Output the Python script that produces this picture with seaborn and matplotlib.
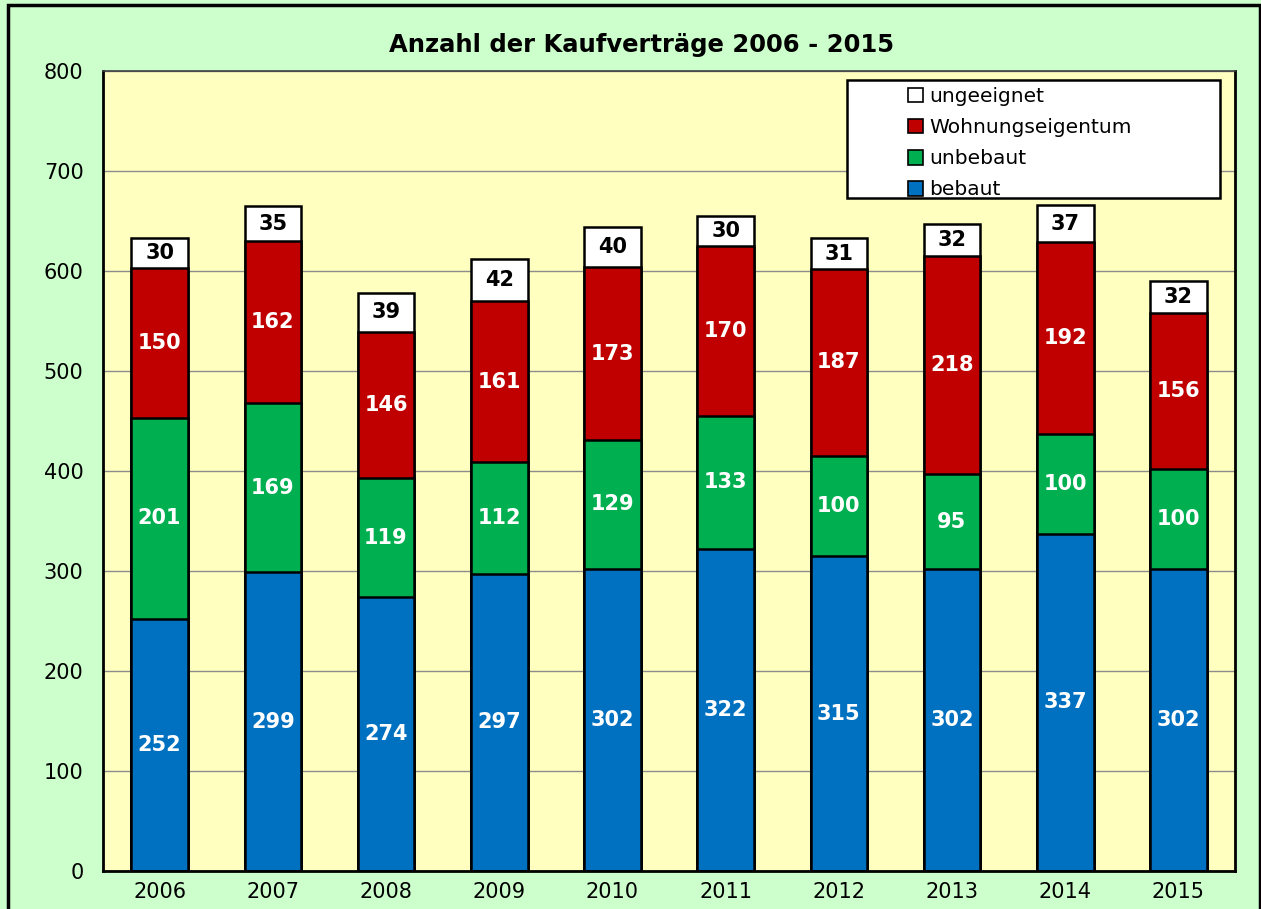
import numpy as np
import pandas as pd
import matplotlib
matplotlib.use('Agg')
import matplotlib.pyplot as plt
import seaborn as sns
from matplotlib.patches import Patch, Rectangle

years = ['2006', '2007', '2008', '2009', '2010', '2011', '2012', '2013', '2014', '2015']
bebaut = [252, 299, 274, 297, 302, 322, 315, 302, 337, 302]
unbebaut = [201, 169, 119, 112, 129, 133, 100, 95, 100, 100]
wohnungseigentum = [150, 162, 146, 161, 173, 170, 187, 218, 192, 156]
ungeeignet = [30, 35, 39, 42, 40, 30, 31, 32, 37, 32]

series = ['bebaut', 'unbebaut', 'Wohnungseigentum', 'ungeeignet']
colors = {'bebaut': '#0070C0', 'unbebaut': '#00B050',
          'Wohnungseigentum': '#C00000', 'ungeeignet': '#FFFFFF'}
text_colors = {'bebaut': 'white', 'unbebaut': 'white',
               'Wohnungseigentum': 'white', 'ungeeignet': 'black'}

df = pd.DataFrame({'Jahr': years, 'bebaut': bebaut, 'unbebaut': unbebaut,
                   'Wohnungseigentum': wohnungseigentum, 'ungeeignet': ungeeignet})
cum = df[series].cumsum(axis=1)

sns.set_style('white')
plt.rcParams['font.family'] = ['DejaVu Sans']
plt.rcParams['text.color'] = 'black'
plt.rcParams['xtick.color'] = 'black'
plt.rcParams['ytick.color'] = 'black'

fig = plt.figure(figsize=(12.61, 9.09), dpi=100, facecolor='#CCFFCC')
ax = fig.add_axes([103 / 1261, 38 / 909, 1132 / 1261, 800 / 909])
ax.set_facecolor('#FFFFC0')

# figure border
fig.patches.append(Rectangle((8 / 1261, -0.02), 1252 / 1261, 1.02 - 5 / 909,
                             transform=fig.transFigure, fill=False,
                             edgecolor='black', linewidth=2.5, zorder=10))

ax.yaxis.grid(True, color='#8C8C8C', linewidth=1)
ax.set_axisbelow(True)

# stacked bars drawn as cumulative totals, top series first
for s in reversed(series):
    sns.barplot(x=df['Jahr'], y=cum[s], color=colors[s], width=0.5,
                edgecolor='black', linewidth=1.8, saturation=1, ax=ax)

# segment labels
for i in range(len(years)):
    base = 0
    for s in series:
        v = df[s][i]
        ax.text(i, base + v / 2, str(v), ha='center', va='center',
                color=text_colors[s], fontsize=15, fontweight='bold')
        base += v

ax.set_xlim(-0.5, 9.5)
ax.set_ylim(0, 800)
ax.set_yticks(range(0, 801, 100))
ax.set_xlabel('')
ax.set_ylabel('')
ax.tick_params(axis='y', length=6, color='#808080', labelsize=15, pad=8)
ax.tick_params(axis='x', length=0, labelsize=15, pad=8)
for sp in ax.spines.values():
    sp.set_visible(True)
    sp.set_color('black')
    sp.set_linewidth(2)
ax.spines['top'].set_color('#404040')
ax.spines['top'].set_linewidth(1.2)

# legend frame drawn separately so it is as wide as in the original
ax.add_patch(Rectangle(((847 - 103) / 1132, (871 - 198) / 800), (1220 - 847) / 1132, 118 / 800,
                       transform=ax.transAxes, facecolor='white', edgecolor='black',
                       linewidth=1.8, zorder=4.5))
handles = [Patch(facecolor=colors[s], edgecolor='black', linewidth=1.2) for s in reversed(series)]
leg = ax.legend(handles, list(reversed(series)), loc='upper left',
                bbox_to_anchor=((903 - 103) / 1132, (871 - 82) / 800),
                fontsize=14.5, frameon=False,
                handlelength=0.75, handleheight=0.75, handletextpad=0.3,
                labelspacing=0.6, borderpad=0.25, borderaxespad=0)
leg.set_zorder(5)

fig.text(642 / 1261, 1 - 45 / 909, 'Anzahl der Kaufverträge 2006 - 2015',
         ha='center', va='center', fontsize=17.5, fontweight='bold', color='black')

fig.savefig('out.png', dpi=100, facecolor=fig.get_facecolor())
